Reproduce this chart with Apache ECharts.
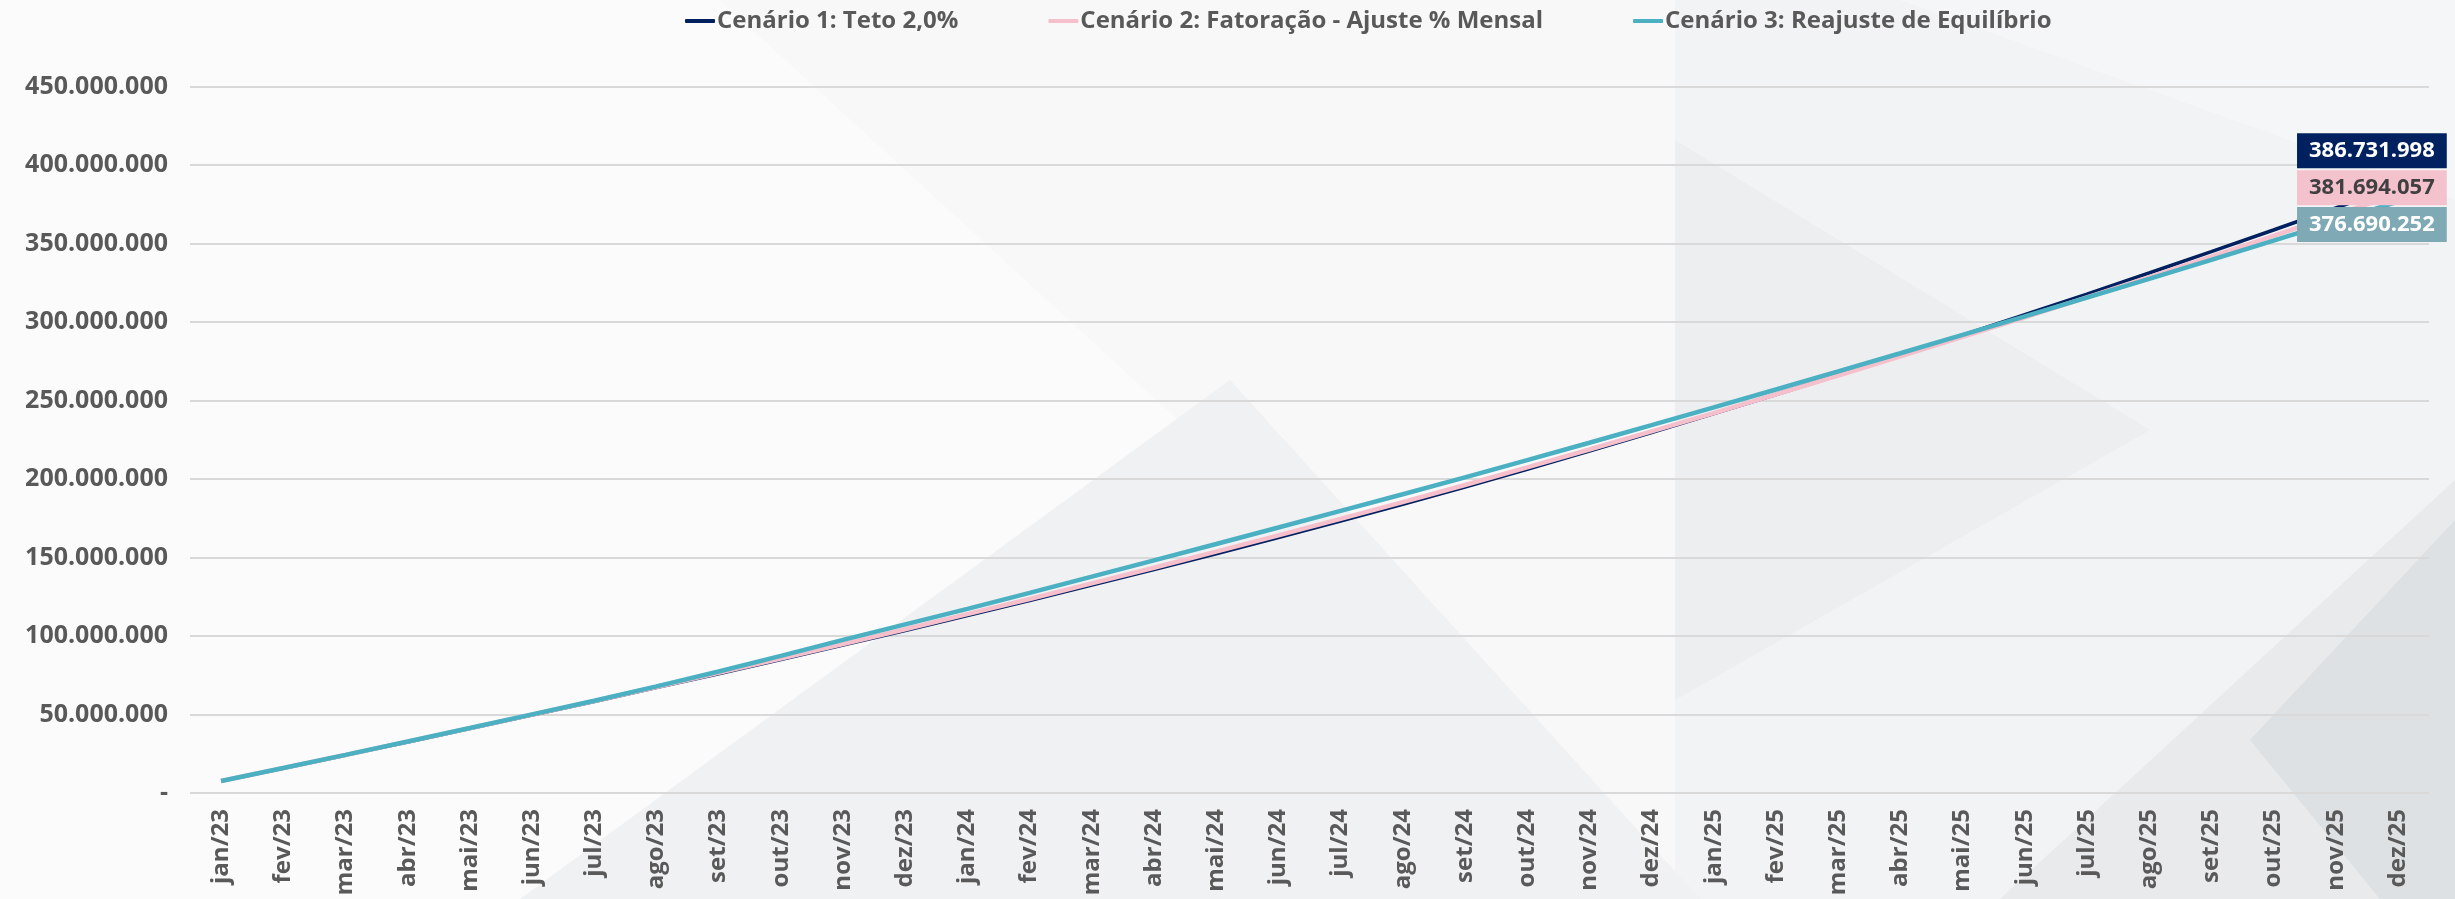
<!DOCTYPE html>
<html>
<head>
<meta charset="utf-8">
<script src="https://cdn.jsdelivr.net/npm/echarts@6/dist/echarts.min.js"></script>
<style>
  html, body { margin: 0; padding: 0; background: #f7f7f8; }
  #chart { width: 2455px; height: 899px; }
</style>
</head>
<body>
<div id="chart"></div>
<script>
var meses = ['jan/23', 'fev/23', 'mar/23', 'abr/23', 'mai/23', 'jun/23', 'jul/23', 'ago/23', 'set/23', 'out/23', 'nov/23', 'dez/23',
  'jan/24', 'fev/24', 'mar/24', 'abr/24', 'mai/24', 'jun/24', 'jul/24', 'ago/24', 'set/24', 'out/24', 'nov/24', 'dez/24',
  'jan/25', 'fev/25', 'mar/25', 'abr/25', 'mai/25', 'jun/25', 'jul/25', 'ago/25', 'set/25', 'out/25', 'nov/25', 'dez/25']

// valores acumulados (estimados do grafico)
var cenario1 = [7600000, 15800000, 24100000, 32500000, 41000000, 49600000, 58300000, 67100000, 76000000, 85000000, 94200000, 103500000,
  113000000, 122600000, 132400000, 142300000, 152400000, 162700000, 173200000, 183900000, 194800000, 206200000, 217800000, 229600000,
  241600000, 253800000, 266200000, 278800000, 291600000, 304600000, 317800000, 331200000, 344800000, 358600000, 372600000, 386731998]
var cenario2 = [7600000, 15900000, 24200000, 32700000, 41200000, 49900000, 58600000, 67500000, 76500000, 85600000, 94900000, 104300000,
  113900000, 123600000, 133500000, 143500000, 153700000, 164100000, 174600000, 185300000, 196200000, 207400000, 218800000, 230300000,
  242000000, 253900000, 265900000, 278100000, 290500000, 303000000, 315700000, 328600000, 341600000, 354800000, 368200000, 381694057]
var cenario3 = [7600000, 15900000, 24300000, 32800000, 41400000, 50100000, 58800000, 67900000, 77400000, 87300000, 97500000, 107400000,
  117300000, 127500000, 137800000, 148200000, 158600000, 169100000, 179700000, 190300000, 201000000, 212000000, 223100000, 234300000,
  245600000, 257000000, 268500000, 280100000, 291800000, 303600000, 315500000, 327500000, 339600000, 351800000, 364100000, 376690252]

var nomes = ['Cenário 1: Teto 2,0%', 'Cenário 2: Fatoração - Ajuste % Mensal', 'Cenário 3: Reajuste de Equilíbrio']
var cores = ['#002060', '#f5bfcb', '#4bb0c2']

function fmt(v) {
  if (v === 0) return '-'
  return String(Math.round(v)).replace(/\B(?=(\d{3})+(?!\d))/g, '.')
}

// ultimo ponto recebe o rotulo
function comRotulo(arr, bg, cor, dy) {
  return arr.map(function (v, i) {
    if (i !== arr.length - 1) return v
    return {
      value: v,
      symbol: 'circle',
      symbolSize: 1,
      label: {
        show: true,
        position: 'inside',
        offset: [-26, dy],
        formatter: function (p) { return fmt(p.value) },
        backgroundColor: bg,
        color: cor,
        fontFamily: 'Open Sans',
        fontWeight: 'bold',
        fontSize: 22,
        lineHeight: 25,
        padding: [5, 12]
      }
    }
  })
}

var chart = echarts.init(document.getElementById('chart'))

chart.setOption({
  backgroundColor: '#f8f8f9',
  animation: false,
  color: cores,
  graphic: [
    { type: 'polygon', z: -10, shape: { points: [[0, 0], [720, 0], [1200, 440], [560, 899], [0, 899]] }, style: { fill: '#fbfbfc' } },
    { type: 'rect', z: -10, shape: { x: 1675, y: 0, width: 780, height: 899 }, style: { fill: '#f2f3f4' } },
    { type: 'polygon', z: -9, shape: { points: [[520, 899], [1230, 380], [1700, 899]] }, style: { fill: '#f0f1f2' } },
    { type: 'polygon', z: -9, shape: { points: [[1675, 140], [2150, 430], [1675, 700]] }, style: { fill: '#eceef0' } },
    { type: 'polygon', z: -9, shape: { points: [[1900, 0], [2455, 0], [2455, 200]] }, style: { fill: '#f5f6f7' } },
    { type: 'polygon', z: -9, shape: { points: [[2000, 899], [2455, 480], [2455, 899]] }, style: { fill: '#e8eaec' } },
    { type: 'polygon', z: -8, shape: { points: [[2250, 740], [2455, 520], [2455, 899], [2380, 899]] }, style: { fill: '#dde1e4' } }
  ],
  legend: {
    left: 680,
    top: 4,
    itemWidth: 30,
    itemHeight: 4,
    itemGap: 90,
    icon: 'roundRect',
    textStyle: {
      color: '#595959',
      fontFamily: 'Open Sans',
      fontWeight: 'bold',
      fontSize: 24,
      padding: [0, 0, 0, -3]
    },
    data: nomes
  },
  grid: {
    left: 190,
    right: 26,
    top: 86.5,
    bottom: 106,
    containLabel: false
  },
  xAxis: {
    type: 'category',
    data: meses,
    boundaryGap: true,
    axisLine: { show: false },
    axisTick: { show: false },
    axisLabel: {
      rotate: 90,
      margin: 16,
      color: '#595959',
      fontFamily: 'Open Sans',
      fontWeight: 'bold',
      fontSize: 24,
      interval: 0
    }
  },
  yAxis: {
    type: 'value',
    min: 0,
    max: 450000000,
    interval: 50000000,
    axisLine: { show: false },
    axisTick: { show: false },
    splitLine: { lineStyle: { color: '#d9d9d9', width: 2 } },
    axisLabel: {
      margin: 22,
      color: '#595959',
      fontFamily: 'Open Sans',
      fontWeight: 'bold',
      fontSize: 25,
      formatter: fmt
    }
  },
  series: [
    {
      name: nomes[0], type: 'line', symbol: 'none', z: 2,
      lineStyle: { color: cores[0], width: 3.5 },
      data: comRotulo(cenario1, '#002060', '#ffffff', -35)
    },
    {
      name: nomes[1], type: 'line', symbol: 'none', z: 2,
      lineStyle: { color: cores[1], width: 4.5 },
      data: comRotulo(cenario2, '#f4c2cd', '#404040', -6)
    },
    {
      name: nomes[2], type: 'line', symbol: 'none', z: 2,
      lineStyle: { color: cores[2], width: 4.5 },
      data: comRotulo(cenario3, '#7faab5', '#ffffff', 23)
    }
  ]
})
</script>
</body>
</html>
